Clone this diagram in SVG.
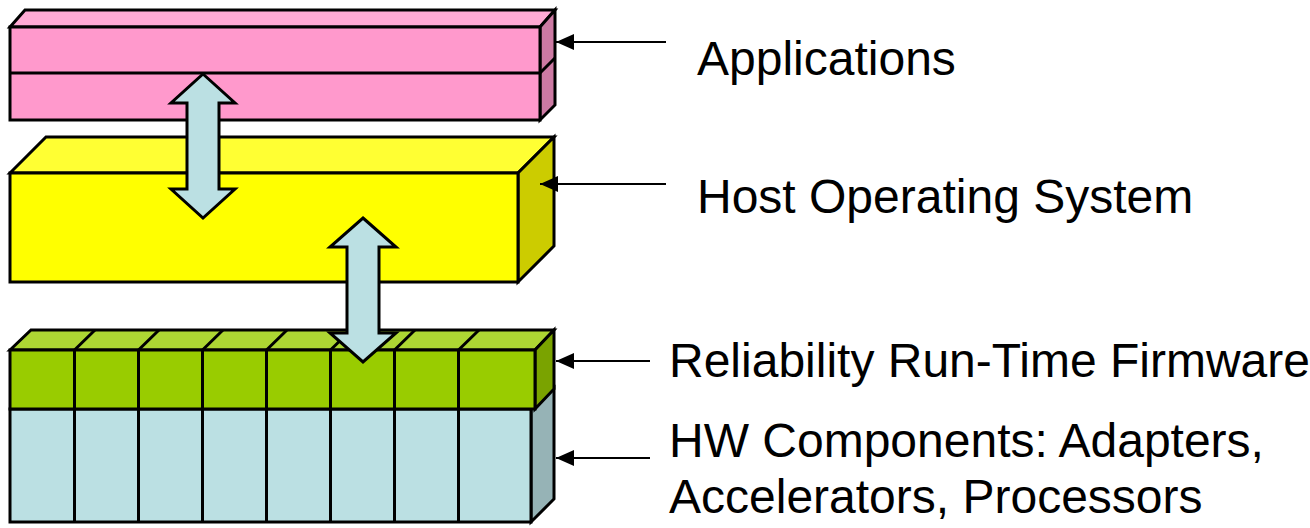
<svg xmlns="http://www.w3.org/2000/svg" width="1310" height="528" viewBox="0 0 1310 528">
  <defs>
    <marker id="head" viewBox="0 0 18 16" refX="18" refY="8" markerWidth="18" markerHeight="16" markerUnits="userSpaceOnUse" orient="auto">
      <path d="M0,0 L18,8 L0,16 Z" fill="#000"/>
    </marker>
    <style>
      .edge { stroke: #000; stroke-width: 3; stroke-linejoin: miter; }
      .thin { stroke: #000; stroke-width: 3; fill: none; }
      .pointer { stroke: #000; stroke-width: 2; fill: none; }
      .label { font-family: "Liberation Sans", Arial, sans-serif; font-size: 48px; fill: #000; }
      .bus { fill: #BBE0E3; stroke: #000; stroke-width: 3; stroke-linejoin: miter; }
    </style>
  </defs>
  <rect width="1310" height="528" fill="#fff"/>

  <!-- Applications layer: two stacked slabs -->
  <g id="applications">
    <polygon class="edge" fill="#FFAAD4" points="10,27 25,10 555,10 540,27"/>
    <polygon class="edge" fill="#CC7AA3" points="540,27 555,10 555,105 540,120"/>
    <rect class="edge" fill="#FF99CC" x="10" y="27" width="530" height="93"/>
    <line class="thin" x1="10" y1="73" x2="540" y2="73"/>
    <line class="thin" x1="540" y1="73" x2="555" y2="58"/>
  </g>

  <!-- Host operating system slab -->
  <g id="host-os">
    <polygon class="edge" fill="#FFFF33" points="10,173 46,137 554,137 518,173"/>
    <polygon class="edge" fill="#CCCC00" points="518,173 554,137 554,246 518,282"/>
    <rect class="edge" fill="#FFFF00" x="10" y="173" width="508" height="109"/>
  </g>

  <!-- HW components row -->
  <g id="hw-components">
    <polygon class="edge" fill="#96B3B6" points="531,409 554,388 554,499 531,522"/>
    <rect class="edge" fill="#BBE0E3" x="10" y="409" width="521" height="113"/>
    <path class="thin" d="M74.5,409 V522 M138.5,409 V522 M202.5,409 V522 M266.5,409 V522 M330.5,409 V522 M394.5,409 V522 M458.5,409 V522"/>
  </g>

  <!-- Reliability run-time firmware row -->
  <g id="firmware">
    <polygon class="edge" fill="#ADD633" points="10,350 31,330 554,330 535,350"/>
    <polygon class="edge" fill="#7AA300" points="535,350 554,330 554,389 535,409"/>
    <rect class="edge" fill="#99CC00" x="10" y="350" width="525" height="59"/>
    <path class="thin" d="M74.5,350 V409 M138.5,350 V409 M202.5,350 V409 M266.5,350 V409 M330.5,350 V409 M394.5,350 V409 M458.5,350 V409"/>
    <path class="thin" d="M74.5,350 L95,330 M138.5,350 L159,330 M202.5,350 L223,330 M266.5,350 L287,330 M330.5,350 L351,330 M394.5,350 L415,330 M458.5,350 L479,330"/>
  </g>

  <!-- Connectors: interface arrows and label pointers -->
  <g id="connectors">
    <polygon class="bus" points="203,74 235,103 219,103 219,189 235,189 203,218 171,189 187,189 187,103 171,103"/>
    <polygon class="bus" points="363,218 396,247 379,247 379,333 396,333 363,362 330,333 347,333 347,247 330,247"/>
    <line class="pointer" x1="666" y1="42" x2="556" y2="42" marker-end="url(#head)"/>
    <line class="pointer" x1="666" y1="184" x2="540" y2="184" marker-end="url(#head)"/>
    <line class="pointer" x1="650" y1="361" x2="556" y2="361" marker-end="url(#head)"/>
    <line class="pointer" x1="650" y1="458" x2="556" y2="458" marker-end="url(#head)"/>
  </g>

  <!-- Labels -->
  <g id="labels">
    <text class="label" x="697" y="75">Applications</text>
    <text class="label" x="697" y="213">Host Operating System</text>
    <text class="label" x="669" y="377">Reliability Run-Time Firmware</text>
    <text class="label" x="669" y="457">HW Components: Adapters,</text>
    <text class="label" x="669" y="513">Accelerators, Processors</text>
  </g>
</svg>
